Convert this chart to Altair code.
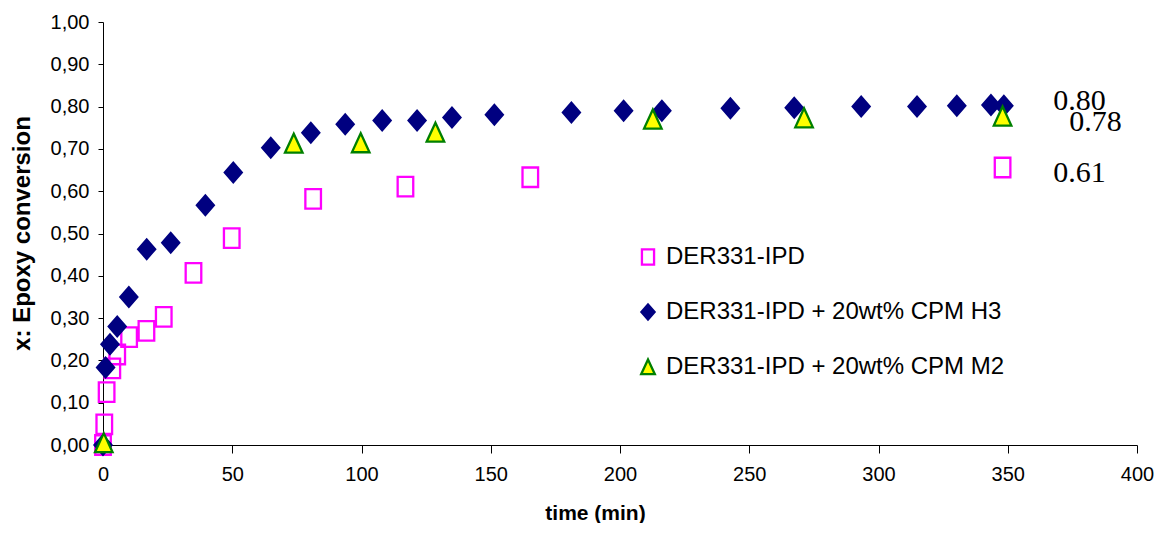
import altair as alt
import pandas as pd

# ---------------- data ----------------
series_names = ["DER331-IPD", "DER331-IPD + 20wt% CPM H3", "DER331-IPD + 20wt% CPM M2"]

ipd_time = [0, 0.5, 1.4, 3.6, 5.5, 10.1, 16.8, 23.5, 35, 49.8, 81.3, 117, 165.3, 348]
ipd_conv = [0.000, 0.049, 0.125, 0.181, 0.214, 0.255, 0.270, 0.303, 0.407, 0.489,
            0.582, 0.611, 0.633, 0.656]

h3_time = [0, 1.0, 2.7, 5.5, 10, 16.9, 26.2, 39.6, 50.4, 64.9, 80.4, 93.7, 108, 121.5,
           135, 151.4, 181.2, 201.4, 216.2, 242.7, 267.4, 293.3, 314.9, 330.3, 343.5, 348.5]
h3_conv = [0.000, 0.183, 0.238, 0.280, 0.350, 0.463, 0.478, 0.567, 0.644, 0.703, 0.738,
           0.758, 0.767, 0.767, 0.774, 0.781, 0.786, 0.790, 0.790, 0.796, 0.797, 0.800,
           0.800, 0.802, 0.804, 0.802]

m2_time = [0.3, 73.8, 99.7, 128.6, 212.7, 271.2, 348]
m2_conv = [0.005, 0.713, 0.714, 0.739, 0.770, 0.773, 0.777]

ann_text = ["0.80", "0.78", "0.61"]
ann_time = [367.6, 373.8, 367.6]
ann_conv = [0.813, 0.764, 0.643]

y_ticks = [0.0, 0.1, 0.2, 0.3, 0.4, 0.5, 0.6, 0.7, 0.8, 0.9, 1.0]
x_ticks = [0, 50, 100, 150, 200, 250, 300, 350, 400]

# ---------------- tables ----------------
rows = []
for name, ts, cs in zip(series_names, [ipd_time, h3_time, m2_time], [ipd_conv, h3_conv, m2_conv]):
    for t, c in zip(ts, cs):
        rows.append({"time": t, "conv": c, "series": name})
df = pd.DataFrame(rows)
ann = pd.DataFrame({"time": ann_time, "conv": ann_conv, "label": ann_text})

square_path = "M-0.8,-1L0.8,-1L0.8,1L-0.8,1Z"
diamond_path = "M0,-1L0.87,0L0,1L-0.87,0Z"
triangle_path = "M0,-1L0.9,0.95L-0.9,0.95Z"

legend = alt.Legend(
    title=None, orient="none", legendX=533, legendY=223,
    labelFont="Liberation Sans", labelFontSize=24, labelColor="black", labelLimit=0,
    labelOffset=6, rowPadding=29, symbolSize=230, symbolStrokeWidth=2.3,
    padding=0,
)

xs = alt.Scale(domain=[0, 400], nice=False)
ys = alt.Scale(domain=[0, 1], nice=False)

points = alt.Chart(df).mark_point(opacity=1, strokeWidth=2.3, size=380).encode(
    x=alt.X("time:Q", scale=xs, axis=alt.Axis(
        values=x_ticks, title="time (min)", grid=False, tickSize=8,
        labelFont="Liberation Sans", labelFontSize=20, labelColor="black", labelPadding=11,
        domainColor="black", tickColor="black", labelFlush=False,
        titleFont="Liberation Sans", titleFontSize=21, titleFontWeight="bold",
        titleColor="black", titleX=492, titleY=57, titleAnchor="start", titleAlign="center",
    )),
    y=alt.Y("conv:Q", scale=ys, axis=alt.Axis(
        values=y_ticks, title="x: Epoxy conversion", grid=False, tickSize=5,
        labelExpr="replace(format(datum.value, '.2f'), '.', ',')",
        labelFont="Liberation Sans", labelFontSize=20, labelColor="black", labelPadding=9,
        domainColor="black", tickColor="black", labelFlush=False,
        titleFont="Liberation Sans", titleFontSize=24, titleFontWeight="bold",
        titleColor="black", titleX=-81, titleY=211, titleAngle=270, titleAlign="center",
        titleBaseline="middle", titleAnchor="start",
    )),
    shape=alt.Shape("series:N", scale=alt.Scale(domain=series_names,
                    range=[square_path, diamond_path, triangle_path]), legend=legend),
    stroke=alt.Stroke("series:N", scale=alt.Scale(domain=series_names,
                      range=["#FF00FF", "#000080", "#008000"]), legend=legend),
    fill=alt.Fill("series:N", scale=alt.Scale(domain=series_names,
                  range=["transparent", "#000080", "#FFFF00"]), legend=legend),
)

labels = alt.Chart(ann).mark_text(
    font="Liberation Serif", fontSize=30, align="left", baseline="middle", color="black"
).encode(
    x=alt.X("time:Q", scale=xs),
    y=alt.Y("conv:Q", scale=ys),
    text="label:N",
)

chart = alt.layer(points, labels).properties(
    width=1034, height=423,
    autosize=alt.AutoSizeParams(type="none"),
    padding={"left": 95, "top": 14, "right": 17, "bottom": 78},
).configure_view(stroke=None)

chart.save("out.html", embed_options={"renderer": "svg", "actions": False})
